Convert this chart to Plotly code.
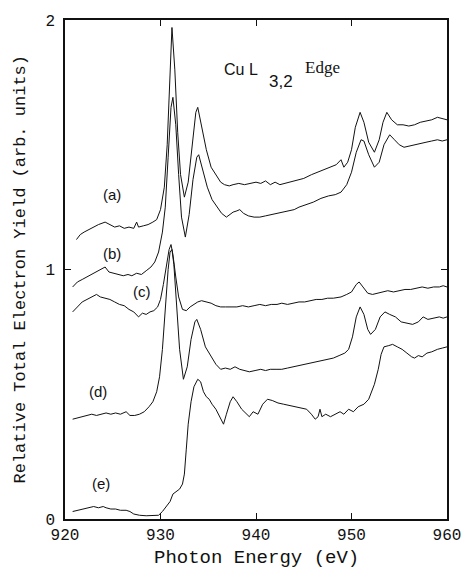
import plotly.graph_objects as go

# ---- data (photon energy in eV, relative yield) ----
xa = [921.2, 921.6, 922.0, 922.5, 923.0, 923.5, 924.2, 924.7, 925.2, 925.7, 926.2, 926.7, 927.2, 927.5, 927.7,
      928.2, 928.7, 929.2, 929.6, 930.0, 930.4, 930.7, 931.0, 931.2, 931.5, 931.8, 932.1, 932.5, 932.9, 933.3,
      933.7, 933.9, 934.3, 934.8, 935.3, 935.8, 936.3, 936.7, 937.2, 937.6, 938.2, 938.8, 939.4, 940.0, 940.5,
      941.0, 941.5, 942.0, 942.5, 943.0, 943.5, 944.0, 944.5, 945.0, 945.8, 946.5, 947.2, 947.8, 948.4, 948.9,
      949.2, 949.6, 950.0, 950.4, 950.9, 951.3, 951.8, 952.4, 952.9, 953.3, 953.7, 954.2, 954.8, 955.4, 956.0,
      956.6, 957.2, 957.8, 958.4, 959.0, 959.5, 960.0]
ya = [1.12, 1.14, 1.15, 1.16, 1.17, 1.18, 1.19, 1.18, 1.17, 1.175, 1.165, 1.17, 1.165, 1.19, 1.17,
      1.175, 1.18, 1.19, 1.20, 1.24, 1.33, 1.50, 1.80, 1.97, 1.80, 1.55, 1.38, 1.29, 1.35, 1.50,
      1.63, 1.65, 1.58, 1.48, 1.41, 1.38, 1.35, 1.34, 1.335, 1.34, 1.345, 1.34, 1.345, 1.35, 1.345,
      1.355, 1.34, 1.35, 1.34, 1.345, 1.35, 1.355, 1.36, 1.365, 1.38, 1.39, 1.40, 1.41, 1.42, 1.44,
      1.41, 1.43, 1.48, 1.57, 1.63, 1.59, 1.51, 1.47, 1.52, 1.59, 1.63, 1.60, 1.58, 1.58, 1.575,
      1.58, 1.59, 1.595, 1.60, 1.61, 1.605, 1.60]

xb = [920.8, 921.3, 921.8, 922.3, 922.8, 923.3, 923.8, 924.2, 924.6, 925.1, 925.6, 926.1, 926.6, 927.0, 927.5,
      928.0, 928.5, 929.0, 929.4, 929.8, 930.2, 930.5, 930.8, 931.1, 931.3, 931.6, 931.9, 932.2, 932.6, 933.0,
      933.4, 933.8, 934.0, 934.4, 934.9, 935.4, 935.9, 936.4, 936.9, 937.3, 937.6, 938.0, 938.3, 938.7, 939.2,
      939.8, 940.4, 941.0, 941.6, 942.2, 942.8, 943.4, 944.0, 944.5, 945.2, 946.0, 946.8, 947.6, 948.3, 948.9,
      949.5, 950.0, 950.5, 951.0, 951.3, 951.8, 952.4, 952.9, 953.4, 954.0, 954.5, 955.0, 955.5, 956.0, 956.6,
      957.2, 957.8, 958.4, 959.0, 959.5, 960.0]
yb = [0.93, 0.95, 0.96, 0.97, 0.98, 0.99, 1.00, 1.01, 0.99, 0.985, 0.98, 0.975, 0.98, 0.975, 0.985,
      0.98, 0.995, 1.01, 1.03, 1.07, 1.15, 1.25, 1.45, 1.65, 1.69, 1.58, 1.38, 1.21, 1.13, 1.22,
      1.36, 1.45, 1.46, 1.40, 1.33, 1.28, 1.25, 1.225, 1.21, 1.22, 1.23, 1.235, 1.24, 1.225, 1.215,
      1.21, 1.21, 1.215, 1.22, 1.225, 1.23, 1.235, 1.24, 1.25, 1.26, 1.27, 1.285, 1.295, 1.30, 1.31,
      1.34, 1.39, 1.47, 1.52, 1.515, 1.46, 1.41, 1.43, 1.50, 1.54, 1.52, 1.50, 1.49, 1.495, 1.50,
      1.505, 1.51, 1.515, 1.52, 1.515, 1.52]

xc = [920.8, 921.3, 921.8, 922.3, 922.8, 923.3, 923.7, 924.2, 924.7, 925.2, 925.7, 926.2, 926.7, 927.2, 927.7,
      928.1, 928.5, 928.9, 929.3, 929.7, 930.0, 930.3, 930.6, 930.9, 931.1, 931.3, 931.6, 931.9, 932.3, 932.7,
      933.1, 933.5, 933.9, 934.3, 934.8, 935.3, 935.8, 936.3, 936.8, 937.4, 938.0, 938.6, 939.2, 939.8, 940.4,
      941.0, 941.6, 942.2, 942.7, 943.3, 943.9, 944.5, 945.1, 945.7, 946.3, 946.9, 947.5, 948.1, 948.9, 949.5,
      950.0, 950.5, 950.8, 951.2, 951.7, 952.2, 952.7, 953.2, 953.8, 954.4, 955.0, 955.6, 956.2, 956.8, 957.4,
      958.0, 958.6, 959.2, 959.6, 960.0]
yc = [0.83, 0.85, 0.87, 0.88, 0.89, 0.90, 0.89, 0.885, 0.88, 0.87, 0.86, 0.855, 0.84, 0.83, 0.81,
      0.825, 0.82, 0.83, 0.835, 0.85, 0.88, 0.94, 1.02, 1.08, 1.10, 1.06, 0.97, 0.89, 0.84, 0.835,
      0.85, 0.86, 0.87, 0.875, 0.87, 0.865, 0.855, 0.85, 0.85, 0.85, 0.85, 0.855, 0.85, 0.855, 0.86,
      0.855, 0.86, 0.86, 0.865, 0.86, 0.865, 0.87, 0.87, 0.875, 0.88, 0.88, 0.885, 0.885, 0.89, 0.90,
      0.91, 0.94, 0.95, 0.93, 0.905, 0.90, 0.905, 0.91, 0.915, 0.91, 0.915, 0.92, 0.92, 0.925, 0.93,
      0.925, 0.93, 0.93, 0.935, 0.93]

xd = [920.8, 921.3, 921.8, 922.3, 922.8, 923.3, 923.8, 924.3, 924.8, 925.3, 925.8, 926.4, 926.8, 927.3, 927.8,
      928.3, 928.8, 929.2, 929.6, 929.9, 930.2, 930.5, 930.8, 931.0, 931.2, 931.4, 931.7, 932.0, 932.4, 932.8,
      933.2, 933.6, 933.8, 934.2, 934.7, 935.3, 935.8, 936.3, 936.8, 937.3, 937.8, 938.3, 938.8, 939.3, 939.9,
      940.5, 941.0, 941.5, 942.1, 942.7, 943.3, 943.9, 944.5, 945.1, 945.7, 946.3, 946.9, 947.5, 948.1, 948.7,
      949.3, 949.7, 950.1, 950.5, 950.9, 951.3, 951.7, 952.0, 952.5, 953.0, 953.5, 954.0, 954.6, 955.2, 955.8,
      956.4, 957.0, 957.5, 958.0, 958.6, 959.2, 959.6, 960.0]
yd = [0.40, 0.405, 0.41, 0.415, 0.42, 0.415, 0.42, 0.425, 0.42, 0.425, 0.42, 0.43, 0.415, 0.415, 0.42,
      0.43, 0.45, 0.47, 0.51, 0.57, 0.68, 0.85, 1.00, 1.07, 1.08, 1.02, 0.85, 0.68, 0.56, 0.61,
      0.72, 0.79, 0.80, 0.76, 0.69, 0.65, 0.62, 0.60, 0.605, 0.60, 0.61, 0.60, 0.595, 0.59, 0.595,
      0.60, 0.595, 0.60, 0.60, 0.60, 0.605, 0.61, 0.615, 0.62, 0.625, 0.63, 0.635, 0.64, 0.645, 0.655,
      0.665, 0.68, 0.73, 0.81, 0.85, 0.82, 0.76, 0.74, 0.76, 0.81, 0.83, 0.82, 0.81, 0.79, 0.785,
      0.78, 0.79, 0.81, 0.80, 0.805, 0.81, 0.805, 0.81]

xe = [920.8, 921.3, 921.8, 922.3, 922.6, 923.0, 923.5, 924.0, 924.3, 924.8, 925.3, 925.8, 926.4, 926.8, 927.2,
      927.8, 928.5, 929.2, 929.8, 930.2, 930.6, 931.0, 931.3, 931.6, 932.0, 932.3, 932.5, 932.7, 932.9, 933.2,
      933.5, 933.9, 934.2, 934.5, 934.8, 935.1, 935.4, 935.8, 936.2, 936.6, 936.9, 937.3, 937.6, 938.0, 938.5,
      939.0, 939.3, 939.7, 940.2, 940.7, 941.2, 941.7, 942.3, 942.9, 943.5, 944.1, 944.7, 945.3, 945.8, 946.2,
      946.5, 946.7, 946.9, 947.3, 947.8, 948.3, 948.8, 949.2, 949.7, 950.2, 950.7, 951.3, 951.8, 952.4, 952.8,
      953.1, 953.4, 953.9, 954.3, 954.8, 955.3, 955.8, 956.3, 956.6, 957.0, 957.4, 957.9, 958.4, 959.0, 959.5,
      960.0]
ye = [0.03, 0.035, 0.04, 0.045, 0.045, 0.05, 0.045, 0.05, 0.045, 0.04, 0.04, 0.035, 0.035, 0.03, 0.02,
      0.015, 0.013, 0.013, 0.015, 0.03, 0.05, 0.07, 0.10, 0.11, 0.12, 0.14, 0.18, 0.28, 0.38, 0.47,
      0.53, 0.56, 0.55, 0.51, 0.49, 0.48, 0.46, 0.44, 0.41, 0.38, 0.42, 0.47, 0.49, 0.47, 0.44,
      0.42, 0.41, 0.43, 0.42, 0.46, 0.48, 0.475, 0.465, 0.46, 0.455, 0.45, 0.445, 0.44, 0.42, 0.40,
      0.41, 0.44, 0.41, 0.42, 0.41, 0.42, 0.43, 0.42, 0.44, 0.43, 0.45, 0.46, 0.48, 0.54, 0.60,
      0.66, 0.69, 0.695, 0.70, 0.69, 0.68, 0.665, 0.65, 0.645, 0.655, 0.65, 0.665, 0.67, 0.68, 0.685,
      0.69]

curve_labels = ["(a)", "(b)", "(c)", "(d)", "(e)"]
label_x = [924.9, 924.9, 928.1, 923.5, 923.8]
label_y = [1.30, 1.066, 0.91, 0.513, 0.144]

x_ticks = [920, 930, 940, 950, 960]
y_ticks = [0, 1, 2]

INK = "#111111"

fig = go.Figure()
for xs, ys in [(xa, ya), (xb, yb), (xc, yc), (xd, yd), (xe, ye)]:
    fig.add_trace(go.Scatter(x=xs, y=ys, mode="lines",
                             line=dict(color=INK, width=1.0),
                             showlegend=False, hoverinfo="skip"))

for t, lx, ly in zip(curve_labels, label_x, label_y):
    fig.add_annotation(x=lx, y=ly, text=t, showarrow=False,
                       font=dict(family="Liberation Sans", size=15, color=INK))

# title inside the plot
fig.add_annotation(x=0.411, y=0.900, xref="paper", yref="paper", xanchor="left", yanchor="middle",
                   text="Cu L", showarrow=False,
                   font=dict(family="Liberation Sans", size=16, color=INK))
fig.add_annotation(x=0.529, y=0.876, xref="paper", yref="paper", xanchor="left", yanchor="middle",
                   text="3,2", showarrow=False,
                   font=dict(family="Liberation Sans", size=17, color=INK))
fig.add_annotation(x=0.623, y=0.904, xref="paper", yref="paper", xanchor="left", yanchor="middle",
                   text="Edge", showarrow=False,
                   font=dict(family="Liberation Serif", size=17, color=INK))

# axis titles
fig.add_annotation(x=-0.1178, y=0.5, xref="paper", yref="paper", xanchor="center", yanchor="middle",
                   textangle=-90, text="Relative Total Electron Yield (arb. units)", showarrow=False,
                   font=dict(family="Liberation Mono", size=17, color=INK))
fig.add_annotation(x=0.5, y=-0.0782, xref="paper", yref="paper", xanchor="center", yanchor="middle",
                   text="Photon Energy (eV)", showarrow=False,
                   font=dict(family="Liberation Mono", size=19, color=INK))

axis_common = dict(showline=True, linecolor=INK, linewidth=1.5, mirror="ticks",
                   ticks="inside", ticklen=6, tickwidth=1.2, tickcolor=INK,
                   showgrid=False, zeroline=False, automargin=False,
                   ticklabeloverflow="allow",
                   tickfont=dict(family="Liberation Mono", size=16, color=INK))

fig.update_xaxes(range=[920, 960], tickvals=x_ticks, ticktext=[str(v) for v in x_ticks],
                 **axis_common)
fig.update_yaxes(range=[0, 2], tickvals=y_ticks, ticktext=[str(v) for v in y_ticks],
                 ticklabelstandoff=5, **axis_common)

# the page adds an 8 px body margin on every side; size the figure so nothing overflows
fig.update_layout(width=454, height=563, margin=dict(l=57, r=15, t=12, b=52),
                  paper_bgcolor="white", plot_bgcolor="white")

fig.write_html("out.html")
